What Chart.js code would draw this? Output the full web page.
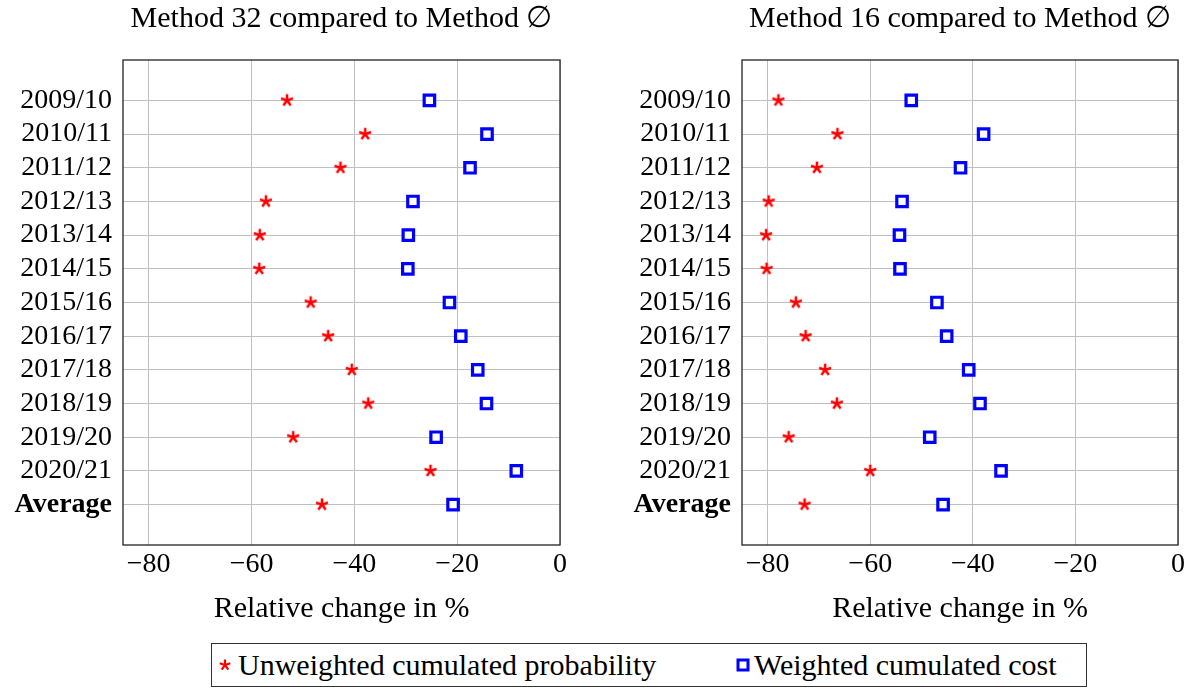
<!DOCTYPE html>
<html><head><meta charset="utf-8">
<script src="https://cdn.jsdelivr.net/npm/chart.js@4.4.1/dist/chart.umd.min.js"></script>
<style>
html,body{margin:0;padding:0;background:#fff;width:1194px;height:689px;overflow:hidden;position:relative;}
#c1{position:absolute;left:0;top:0;}
#c2{position:absolute;left:619px;top:0;}
#legend{position:absolute;left:211px;top:643px;width:876px;height:44px;box-sizing:border-box;border:1px solid #333;font-family:"Liberation Serif","DejaVu Serif",serif;font-size:30px;color:#000;}
.item{position:absolute;top:0;line-height:42px;white-space:nowrap;}
.mk{position:absolute;}
</style></head><body>
<canvas id="c1" width="580" height="635"></canvas>
<canvas id="c2" width="575" height="635"></canvas>
<div id="legend"></div>
<script>
const categories = ['2009/10','2010/11','2011/12','2012/13','2013/14','2014/15','2015/16','2016/17','2017/18','2018/19','2019/20','2020/21','Average'];
const xTickValues = [-80, -60, -40, -20, 0];
const seriesNames = ['Unweighted cumulated probability', 'Weighted cumulated cost'];
const chartTitles = ['Method 32 compared to Method \u2205', 'Method 16 compared to Method \u2205'];
const axisTitle = 'Relative change in %';
const m32Unweighted = [-53.1, -37.9, -42.7, -57.2, -58.4, -58.5, -48.5, -45.1, -40.5, -37.3, -51.9, -25.2, -46.3];
const m32Weighted   = [-25.4, -14.2, -17.5, -28.6, -29.5, -29.6, -21.5, -19.3, -16.0, -14.3, -24.1, -8.5, -20.8];
const m16Unweighted = [-77.9, -66.4, -70.4, -79.8, -80.3, -80.2, -74.5, -72.6, -68.8, -66.5, -75.9, -60.0, -72.8];
const m16Weighted   = [-52.0, -37.9, -42.4, -53.8, -54.3, -54.2, -47.0, -45.1, -40.8, -38.6, -48.4, -34.5, -45.8];

const FONT = '"Liberation Serif", "DejaVu Serif", serif';
Chart.defaults.font.family = FONT;
Chart.defaults.color = '#000';

function makeStar(size, arm, lw, color) {
  const c = document.createElement('canvas');
  c.width = c.height = size;
  const g = c.getContext('2d');
  g.strokeStyle = color; g.lineWidth = lw; g.lineCap = 'butt';
  g.beginPath();
  for (let k = 0; k < 5; k++) {
    const a = -Math.PI / 2 + k * 2 * Math.PI / 5;
    g.moveTo(size / 2, size / 2);
    g.lineTo(size / 2 + arm * Math.cos(a), size / 2 + arm * Math.sin(a));
  }
  g.stroke();
  return c;
}
function makeSquare(size, side, lw, color) {
  const c = document.createElement('canvas');
  c.width = c.height = size;
  const g = c.getContext('2d');
  g.fillStyle = '#fff'; g.strokeStyle = color; g.lineWidth = lw;
  const o = (size - side) / 2;
  g.fillRect(o, o, side, side);
  g.strokeRect(o, o, side, side);
  return c;
}
const starImg = makeStar(16, 6.3, 2.5, '#ff0000');

const framePlugin = {
  id: 'frame',
  afterDraw(chart) {
    const { ctx, chartArea: a } = chart;
    ctx.save();
    ctx.strokeStyle = '#222';
    ctx.lineWidth = 1.3;
    ctx.strokeRect(a.left, a.top, a.right - a.left, a.bottom - a.top);
    ctx.restore();
  }
};

function makeChart(id, title, uw, w, padRight) {
  return new Chart(document.getElementById(id), {
    type: 'scatter',
    data: {
      datasets: [
        { label: seriesNames[0], data: uw.map((v, i) => ({ x: v, y: i })), pointStyle: starImg, pointRadius: 7,
          borderColor: '#ff0000', backgroundColor: '#ff0000', showLine: false },
        { label: seriesNames[1], data: w.map((v, i) => ({ x: v, y: i })), pointStyle: 'rect', pointRadius: 7.4,
          borderWidth: 3.2, borderColor: '#0000ff', backgroundColor: '#ffffff', showLine: false }
      ]
    },
    options: {
      responsive: false, animation: false, events: [],
      layout: { padding: { left: 0, right: padRight, top: 0, bottom: 0 } },
      plugins: { legend: { display: false }, tooltip: { enabled: false }, title: { display: false } },
      scales: {
        x: {
          type: 'linear', position: 'bottom', min: -85, max: 0,
          afterBuildTicks: s => { s.ticks = xTickValues.map(v => ({ value: v })); },
          afterFit: s => { s.height = 90; },
          grid: { color: '#c0c0c0', lineWidth: 1, drawTicks: false },
          border: { display: false },
          ticks: { padding: 3, color: '#000', font: { family: FONT, size: 28, lineHeight: 1.2 },
                   callback: v => v < 0 ? '\u2212' + Math.abs(v) : String(v) },
          title: { display: true, text: axisTitle, color: '#000', font: { family: FONT, size: 30, lineHeight: 1 },
                   padding: { top: 0, bottom: 11 } }
        },
        xTop: {
          type: 'linear', position: 'top', min: -85, max: 0,
          afterFit: s => { s.height = 60; },
          grid: { display: false }, border: { display: false }, ticks: { display: false },
          title: { display: true, text: title, color: '#000', font: { family: FONT, size: 30, lineHeight: 1 },
                   padding: { top: 4, bottom: 0 } }
        },
        y: {
          type: 'linear', position: 'left', reverse: true, min: -1.2, max: 13.2,
          afterBuildTicks: s => { s.ticks = categories.map((c, i) => ({ value: i })); },
          afterFit: s => { s.width = 123; },
          grid: { color: '#c0c0c0', lineWidth: 1, drawTicks: false },
          border: { display: false },
          ticks: {
            padding: 11, color: '#000', autoSkip: false,
            font: ctx => ({ family: FONT, size: 28, lineHeight: 1.2,
                            weight: (ctx.tick && categories[ctx.tick.value] === 'Average') ? 'bold' : 'normal' }),
            callback: v => categories[v]
          }
        }
      }
    },
    plugins: [framePlugin]
  });
}

makeChart('c1', chartTitles[0], m32Unweighted, m32Weighted, 20);
makeChart('c2', chartTitles[1], m16Unweighted, m16Weighted, 16);

// Legend
const legend = document.getElementById('legend');
const legendItems = [
  { name: seriesNames[0], marker: makeStar(14, 5.6, 2.2, '#ff0000'), mx: 13, tx: 26 },
  { name: seriesNames[1], marker: makeSquare(16, 10, 3, '#0000ff'), mx: 531, tx: 542 }
];
legendItems.forEach(it => {
  const m = it.marker; m.className = 'mk';
  m.style.left = (it.mx - m.width / 2) + 'px';
  m.style.top = (21 - m.height / 2) + 'px';
  legend.appendChild(m);
  const t = document.createElement('span');
  t.className = 'item'; t.style.left = it.tx + 'px'; t.textContent = it.name;
  legend.appendChild(t);
});
</script>
</body></html>
